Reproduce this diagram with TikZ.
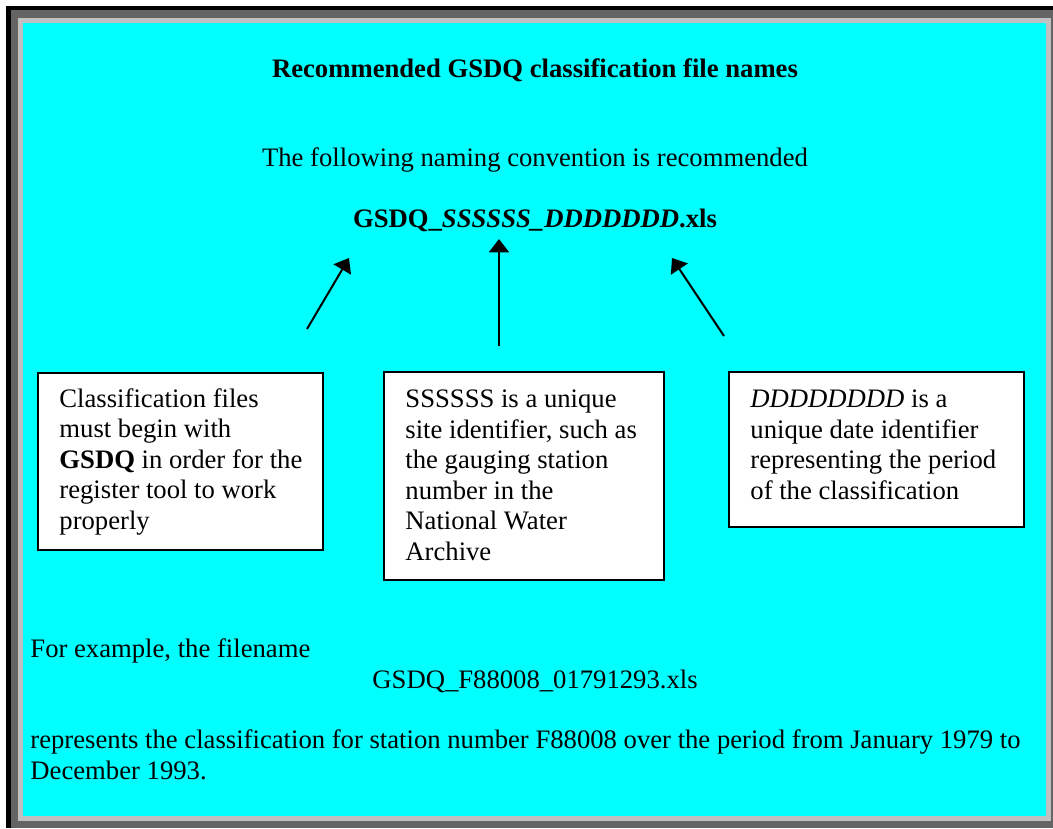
\documentclass[tikz,border=0pt]{standalone}
\usepackage{fontspec}
\setmainfont{Liberation Serif}
\usetikzlibrary{arrows.meta}
\definecolor{framedark}{HTML}{646464}
\definecolor{framelight}{HTML}{C0C0C0}
\definecolor{panel}{HTML}{00FFFF}
\tikzset{
  txt/.style={anchor=base west, inner sep=0pt, font=\fontsize{12pt}{13.7pt}\selectfont, align=left},
  ctxt/.style={anchor=base, inner sep=0pt, font=\fontsize{12pt}{13.7pt}\selectfont},
  infobox/.style={draw=black, line width=0.9pt, fill=white},
  pointer/.style={line width=0.9pt, -{Triangle[length=6pt,width=9pt]}}
}
\begin{document}
\begin{tikzpicture}[x=0.45pt,y=-0.45pt]
\useasboundingbox (0,0) rectangle (1053,828);
\fill[white] (0,0) rectangle (1053,828);
\fill[black] (6,6) rectangle (1053,828);
\fill[framedark] (11,10) rectangle (1053,828);
\fill[framelight] (18,18) rectangle (1051,821);
\fill[panel] (23,23) rectangle (1046,816);

\node[ctxt, font=\fontsize{12pt}{13.7pt}\selectfont\bfseries] (title) at (535,77) {Recommended GSDQ classification file names};
\node[ctxt] (intro) at (535,166) {The following naming convention is recommended};
\node[ctxt, font=\fontsize{12pt}{13.7pt}\selectfont\bfseries] (pattern) at (535,227) {GSDQ\_\textit{SSSSSS\_DDDDDDD}.xls};

\draw[infobox] (38,373) rectangle (323,550);
\node[txt] (b1) at (59,529) {Classification files\\must begin with\\\textbf{GSDQ} in order for the\\register tool to work\\properly};
\draw[infobox] (384,372) rectangle (664,580);
\node[txt] (b2) at (405,560) {SSSSSS is a unique\\site identifier, such as\\the gauging station\\number in the\\National Water\\Archive};
\draw[infobox] (729,372) rectangle (1024,527);
\node[txt] (b3) at (750,499) {\textit{DDDDDDDD} is a\\unique date identifier\\representing the period\\of the classification};

\coordinate (t1) at (307,329);
\coordinate (h1) at (349,258);
\coordinate (t2) at (499,346);
\coordinate (h2) at (499,239);
\coordinate (t3) at (724,336);
\coordinate (h3) at (672,258);
\draw[pointer] (t1) -- (h1);
\draw[pointer] (t2) -- (h2);
\draw[pointer] (t3) -- (h3);

\node[txt] (ex1) at (30,657) {For example, the filename};
\node[txt] (ex2) at (372,688) {GSDQ\_F88008\_01791293.xls};
\node[txt] (ex3) at (30,779) {represents the classification for station number F88008 over the period from January 1979 to\\December 1993.};
\end{tikzpicture}
\end{document}
